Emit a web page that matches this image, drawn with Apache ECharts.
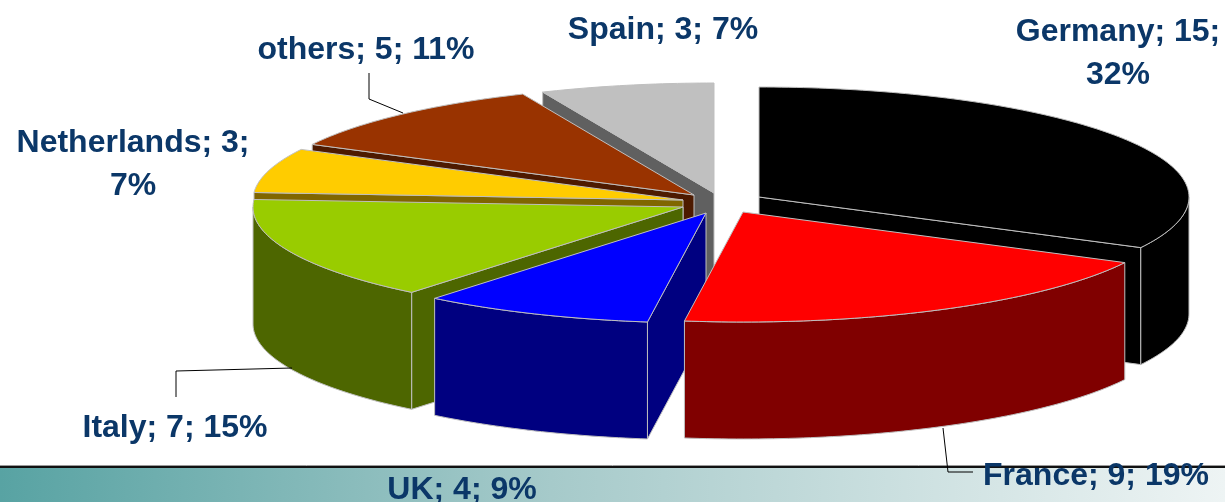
<!DOCTYPE html>
<html>
<head>
<meta charset="utf-8">
<title>3D pie</title>
<script src="https://cdn.jsdelivr.net/npm/echarts@6.0.0/dist/echarts.min.js"></script>
<style>
html, body { margin: 0; padding: 0; background: #fff; }
#chart { width: 1225px; height: 502px; }
</style>
</head>
<body>
<div id="chart"></div>
<script>
const countries = ['Germany', 'France', 'UK', 'Italy', 'Netherlands', 'others', 'Spain'];
const values = [15, 9, 4, 7, 3, 5, 3];
const percents = [32, 19, 9, 15, 7, 11, 7];

const topColors = ['#000000', '#ff0000', '#0000ff', '#99cc00', '#ffcc00', '#993300', '#c0c0c0'];
const sideColors = ['#000000', '#800000', '#000080', '#4d6600', '#806600', '#4d1a00', '#606060'];

// pie geometry, px
const CX = 712, CY = 203, RX = 430, RY = 110, DEPTH = 117;
// how far each slice is pulled out
const explode = [[47, -6], [31, 9], [-6, 10], [-29, 4], [-29, -3], [-18, -8], [2, -10]];
// painting order, back to front (slice indexes)
const drawOrder = [6, 5, 0, 4, 3, 2, 1];
// label layout
const labelPos = [[1118, 54], [1096, 476], [462, 490], [175, 428], [133, 165], [366, 50], [663, 30]];
const wrapLabel = [true, false, false, false, true, false, false];
const leaders = [
  [[369, 73], [369, 99], [403, 113]],
  [[176, 397], [176, 371], [292, 368]],
  [[943, 428], [948, 472], [973, 472]]
];

const total = values.reduce((a, b) => a + b, 0);
const angles = [];
let acc = 90;
values.forEach(v => {
  const a0 = acc;
  acc -= v / total * 360;
  angles.push([a0, acc]);
});
const rad = d => d * Math.PI / 180;

const rank = [];
drawOrder.forEach((idx, r) => { rank[idx] = r; });

const edge = '#bfbfbf';

function renderItem(params, api) {
  const i = params.dataIndex;
  const a0 = angles[i][0], a1 = angles[i][1];
  const ax = CX + explode[i][0], ay = CY + explode[i][1];
  const pt = (deg, dz) => [ax + RX * Math.cos(rad(deg)), ay - RY * Math.sin(rad(deg)) + dz];
  const arc = (from, to, dz) => {
    const n = Math.max(2, Math.ceil(Math.abs(from - to)));
    const pts = [];
    for (let k = 0; k <= n; k++) pts.push(pt(from + (to - from) * k / n, dz));
    return pts;
  };
  const base = rank[i] * 10;
  const children = [];
  const face = (deg) => ({
    type: 'polygon',
    z2: base + 1,
    shape: { points: [[ax, ay], pt(deg, 0), pt(deg, DEPTH), [ax, ay + DEPTH]] },
    style: { fill: sideColors[i], stroke: edge, lineWidth: 1 }
  });
  if (Math.cos(rad(a0)) < -1e-6) children.push(face(a0));
  if (Math.cos(rad(a1)) > 1e-6) children.push(face(a1));

  // front part of the rim
  const w0 = Math.min(a0, 0), w1 = Math.max(a1, -180);
  if (w0 > w1) {
    const top = arc(w0, w1, 0);
    const bottom = arc(w1, w0, DEPTH);
    children.push({
      type: 'polygon',
      z2: base + 1,
      shape: { points: top.concat(bottom) },
      style: { fill: sideColors[i], stroke: edge, lineWidth: 1 }
    });
  }
  children.push({
    type: 'polygon',
    z2: base + 2,
    shape: { points: [[ax, ay]].concat(arc(a0, a1, 0)) },
    style: { fill: topColors[i], stroke: edge, lineWidth: 1 }
  });
  return { type: 'group', children: children };
}

const labelFont = 'bold 32px "Liberation Sans", Arial, sans-serif';
const graphics = [
  {
    type: 'rect', z: 1,
    shape: { x: 0, y: 468, width: 1225, height: 34 },
    style: {
      fill: {
        type: 'linear', x: 0, y: 0, x2: 1, y2: 0,
        colorStops: [
          { offset: 0, color: '#58a3a3' },
          { offset: 0.45, color: '#a6caca' },
          { offset: 1, color: '#eef4f4' }
        ]
      }
    }
  },
  { type: 'line', z: 2, shape: { x1: 0, y1: 465.5, x2: 1225, y2: 465.5 }, style: { stroke: '#9a9a9a', lineWidth: 1 } },
  { type: 'line', z: 2, shape: { x1: 0, y1: 467, x2: 1225, y2: 467 }, style: { stroke: '#111', lineWidth: 2 } }
];
leaders.forEach(p => {
  graphics.push({ type: 'polyline', z: 3, shape: { points: p }, style: { stroke: '#000', lineWidth: 1, fill: null } });
});
countries.forEach((name, i) => {
  const text = name + '; ' + values[i] + (wrapLabel[i] ? ';\n' : '; ') + percents[i] + '%';
  graphics.push({
    type: 'text', z: 5,
    x: labelPos[i][0], y: labelPos[i][1],
    style: {
      text: text,
      font: labelFont,
      fill: '#0b3768',
      align: 'center',
      verticalAlign: 'middle',
      lineHeight: 43
    }
  });
});

const chart = echarts.init(document.getElementById('chart'));
chart.setOption({
  animation: false,
  graphic: graphics,
  series: [{
    type: 'custom',
    coordinateSystem: 'none',
    renderItem: renderItem,
    silent: true,
    data: values.map((v, i) => [v, i])
  }]
});
</script>
</body>
</html>
